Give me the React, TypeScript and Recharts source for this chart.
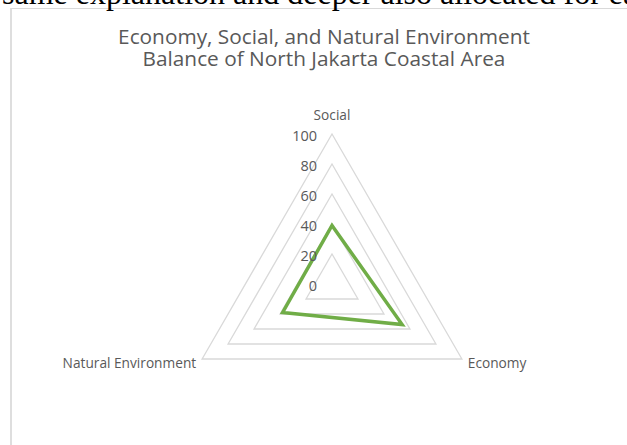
import React from 'react';
import { RadarChart, Radar, PolarGrid, PolarAngleAxis, PolarRadiusAxis } from 'recharts';

const categories = ['Social', 'Economy', 'Natural Environment'];
const balanceValues = [39, 54, 38];
const radiusTicks = [0, 20, 40, 60, 80, 100];
const titleLines = ['Economy, Social, and Natural Environment', 'Balance of North Jakarta Coastal Area'];
const pageText = 'same explanation and deeper also allocated for ea';

const data = categories.map((name, i) => ({ name, value: balanceValues[i] }));

const FONT = '"Open Sans", Lato, sans-serif';
const GREY = '#595959';

const AngleTick = (props: any) => {
  const { x, y, payload, textAnchor } = props;
  let dx = 0;
  let dy = 0;
  let anchor = textAnchor;
  if (payload.value === 'Social') {
    anchor = 'middle';
    dy = -12;
  } else if (payload.value === 'Economy') {
    anchor = 'start';
    dx = -1;
    dy = -1;
  } else {
    anchor = 'end';
    dx = 1;
    dy = -1;
  }
  return (
    <text x={x + dx} y={y + dy} textAnchor={anchor} dominantBaseline="central" fill={GREY} fontSize={13.7} fontFamily={FONT}>
      {payload.value}
    </text>
  );
};

const RadiusTick = (props: any) => {
  const { x, y, payload } = props;
  return (
    <text x={x - 15} y={y + 1} textAnchor="end" dominantBaseline="central" fill={GREY} fontSize={14.5} fontFamily={FONT}>
      {payload.value}
    </text>
  );
};

export default function App() {
  return (
    <div style={{ position: 'absolute', left: 0, top: 0, width: 627, height: 445, background: '#fff', overflow: 'hidden' }}>
      <div
        style={{
          position: 'absolute',
          left: 10,
          top: 8,
          width: 700,
          height: 600,
          borderTop: '1px solid #d9d9d9',
          borderLeft: '2px solid #dedede',
          boxSizing: 'border-box',
        }}
      />
      <div style={{ position: 'absolute', left: 0, top: 0 }}>
        <RadarChart width={627} height={445} data={data} cx={332} cy={284} outerRadius={150} margin={{ top: 0, right: 0, bottom: 0, left: 0 }}>
          <PolarGrid gridType="polygon" radialLines={false} stroke="#d9d9d9" strokeWidth={1.3} polarRadius={[0, 30, 60, 90, 120, 150]} />
          <PolarAngleAxis dataKey="name" tick={<AngleTick />} axisLine={false} tickLine={false} />
          <PolarRadiusAxis
            angle={90}
            domain={[0, 100]}
            ticks={radiusTicks as any}
            tickCount={6}
            tick={<RadiusTick />}
            axisLine={false}
            tickLine={false}
          />
          <Radar dataKey="value" stroke="#70ad47" strokeWidth={3.5} fill="none" fillOpacity={0} dot={false} isAnimationActive={false} strokeLinejoin="miter" />
        </RadarChart>
      </div>
      <svg width={627} height={445} style={{ position: 'absolute', left: 0, top: 0, pointerEvents: 'none' }}>
        <text x={2} y={4} fontFamily='"Liberation Serif", "Times New Roman", serif' fontSize={32} fill="#000">
          {pageText}
        </text>
        <text x={324} y={44} textAnchor="middle" fontFamily={FONT} fontSize={20.8} fill={GREY}>
          {titleLines[0]}
        </text>
        <text x={324} y={66} textAnchor="middle" fontFamily={FONT} fontSize={20.8} fill={GREY}>
          {titleLines[1]}
        </text>
      </svg>
    </div>
  );
}
